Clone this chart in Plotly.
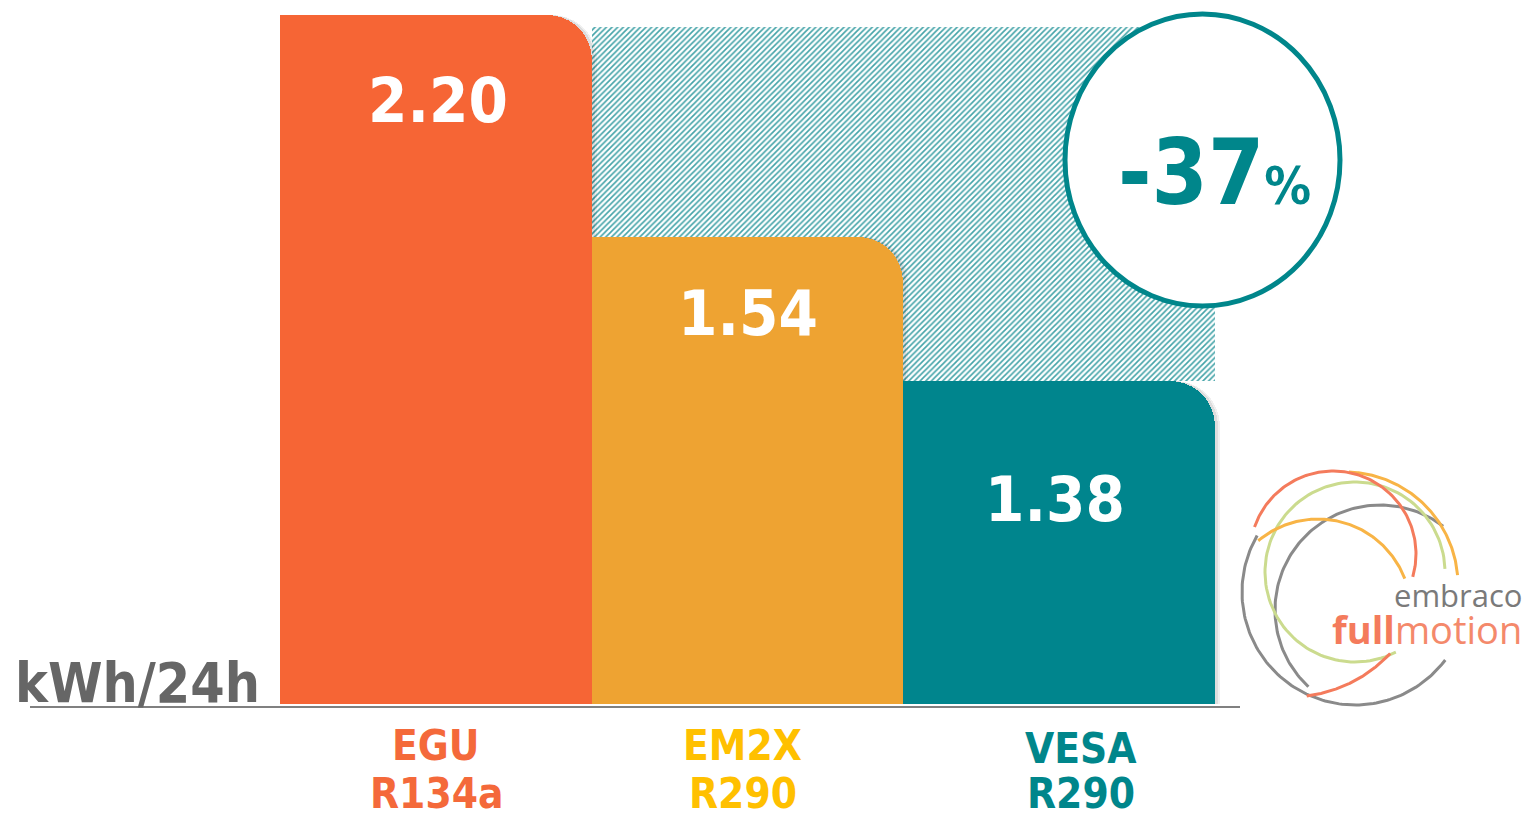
import numpy as np
import plotly.graph_objects as go

# ---------------- data ----------------
categories = ["EGU", "EM2X", "VESA"]
refrigerants = ["R134a", "R290", "R290"]
values = [2.20, 1.54, 1.38]            # kWh/24h as labelled on the bars
bar_heights = [2.20, 1.49, 1.03]       # bar heights as drawn in the picture (chart is not to scale)
hatch_top = 2.16                       # top of the hatched "saving" area
reduction_label = "-37"
unit_label = "kWh/24h"

# ---------------- styles ----------------
bar_colors = ["#F66535", "#EEA332", "#00858D"]
label_colors = ["#F4693A", "#FFC000", "#00868B"]
TEAL = "#00868B"
FONT = "DejaVu Sans Condensed, DejaVu Sans, Verdana, sans-serif"

W, H = 1528, 817
PX_PER_X = 311.5
PX_PER_Y = 313.2
X0_PX = 436
Y0_PX = 704
x_range = [-X0_PX / PX_PER_X, (W - X0_PX) / PX_PER_X]
y_range = [-(H - Y0_PX) / PX_PER_Y, Y0_PX / PX_PER_Y]

xs = list(range(len(categories)))

fig = go.Figure()

# hatched saving area between the tallest and lowest bar
fig.add_trace(go.Bar(
    x=[(xs[1] + xs[2]) / 2], y=[hatch_top - bar_heights[2]], base=[bar_heights[2]],
    width=[2.0], marker=dict(color="white", line_width=0,
                             pattern=dict(shape="/", fgcolor="#45A4A9", bgcolor="white",
                                          size=4, solidity=0.4, fillmode="replace")),
    hoverinfo="skip", showlegend=False))

# soft shadow
for sh, op in [(5, 0.06), (3, 0.08)]:
    fig.add_trace(go.Bar(
        x=xs, y=bar_heights, width=1.0, offset=-0.5 + sh / PX_PER_X,
        marker=dict(color=f"rgba(0,0,0,{op})", cornerradius=45, line_width=0),
        hoverinfo="skip", showlegend=False))

# main bars (rounded top-right) + left half to square the top-left corner
fig.add_trace(go.Bar(
    x=xs, y=bar_heights, width=1.0, offset=-0.5,
    marker=dict(color=bar_colors, cornerradius=45, line_width=0),
    customdata=values, hovertemplate="%{customdata:.2f} kWh/24h<extra></extra>",
    showlegend=False))
fig.add_trace(go.Bar(
    x=xs, y=bar_heights, width=0.5, offset=-0.5,
    marker=dict(color=bar_colors, cornerradius=0, line_width=0),
    hoverinfo="skip", showlegend=False))

# logo arcs on a pixel overlay axis
arcs = [
    (1355, 592, 113, 150, 323, "#8A8A8A"),
    (1380, 610, 105, 53, 227, "#8A8A8A"),
    (1355, 572, 90, 2, 297, "#CBDB8E"),
    (1318, 612, 93, 21, 130, "#F8B446"),
    (1345, 585, 113, 5, 88, "#F8B446"),
    (1333, 554, 83, -16, 161, "#F47B5C"),
    (1290, 560, 137, -83, -43, "#F47B5C"),
]
for cx, cy, r, a0, a1, col in arcs:
    t = np.radians(np.linspace(a0, a1, 120))
    fig.add_trace(go.Scatter(
        x=cx + r * np.cos(t), y=cy - r * np.sin(t), mode="lines",
        line=dict(color=col, width=3), xaxis="x2", yaxis="y2",
        hoverinfo="skip", showlegend=False))

annotations = []
label_offsets = [86, 76, 118]
label_xshift = [2, 0, -4]
for i, (v, hgt) in enumerate(zip(values, bar_heights)):
    annotations.append(dict(
        x=xs[i], y=hgt, xref="x", yref="y", text=f"{v:.2f}", showarrow=False,
        xshift=label_xshift[i], yshift=-label_offsets[i], yanchor="middle",
        font=dict(family=FONT, size=63, color="white", weight="bold")))

cat_xshift = [0, -5, 22]
for i, (c, rf) in enumerate(zip(categories, refrigerants)):
    for txt, ys in [(c, -41 - (3 if i == 2 else 0)), (rf, -89)]:
        annotations.append(dict(
            x=xs[i], y=0, xref="x", yref="y", text=txt, showarrow=False,
            xshift=cat_xshift[i], yshift=ys, yanchor="middle",
            font=dict(family=FONT, size=42, color=label_colors[i], weight="bold")))

annotations.append(dict(
    x=137, y=683, xref="x2", yref="y2", text=unit_label, showarrow=False,
    font=dict(family=FONT, size=55, color="#666666", weight="bold")))

annotations.append(dict(
    x=1214, y=172, xref="x2", yref="y2", showarrow=False,
    text=reduction_label + "<span style='font-size:52px'>%</span>",
    font=dict(family=FONT, size=90, color=TEAL, weight="bold")))

annotations.append(dict(
    x=1524, y=595, xref="x2", yref="y2", xanchor="right", showarrow=False,
    text="embraco", font=dict(family="Open Sans, sans-serif", size=31, color="#7A7A7A")))
annotations.append(dict(
    x=1524, y=629, xref="x2", yref="y2", xanchor="right", showarrow=False,
    text="<b><span style='color:#F47B5C'>full</span></b>motion",
    font=dict(family="Open Sans, sans-serif", size=38, color="#F4896B")))

shapes = [
    dict(type="line", xref="x2", yref="y2", x0=30, x1=1240, y0=707, y1=707,
         line=dict(color="#808080", width=2), layer="above"),
    dict(type="circle", xref="x2", yref="y2", x0=1065, x1=1340, y0=14, y1=306,
         line=dict(color=TEAL, width=5), fillcolor="white", layer="above"),
]

fig.update_layout(
    width=W, height=H, margin=dict(l=0, r=0, t=0, b=0),
    paper_bgcolor="white", plot_bgcolor="white",
    barmode="overlay", bargap=0,
    xaxis=dict(range=x_range, visible=False, fixedrange=True),
    yaxis=dict(range=y_range, visible=False, fixedrange=True),
    xaxis2=dict(range=[0, W], visible=False, overlaying="x", fixedrange=True),
    yaxis2=dict(range=[H, 0], visible=False, overlaying="y", fixedrange=True),
    annotations=annotations, shapes=shapes, showlegend=False,
)

fig.write_html("out.html", config={"displayModeBar": False},
               post_script="document.body.style.margin='0';document.body.style.overflow='hidden';")
